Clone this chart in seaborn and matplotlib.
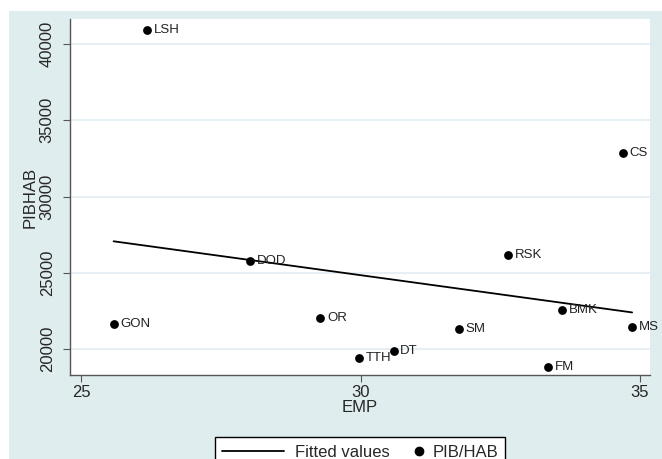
import numpy as np
import pandas as pd
import matplotlib
matplotlib.use("Agg")
import matplotlib.pyplot as plt
from matplotlib.patches import Rectangle
from matplotlib.lines import Line2D
from matplotlib.legend_handler import HandlerLine2D
import seaborn as sns

# data
labels = ["LSH", "CS", "DOD", "GON", "OR", "RSK", "BMK", "MS", "SM", "DT", "TTH", "FM"]
emp = [26.18, 34.69, 28.02, 25.58, 29.28, 32.64, 33.61, 34.86, 31.76, 30.59, 29.98, 33.35]
pibhab = [40920, 32830, 25740, 21620, 22060, 26160, 22550, 21470, 21320, 19870, 19390, 18840]

df = pd.DataFrame({"EMP": emp, "PIBHAB": pibhab, "label": labels})


# marker sits at the right end of the legend key, like Stata does
# (single-point handles are drawn at the middle of xdata, so shrink xdata round the spot)
class RightMarker(HandlerLine2D):
    def get_xdata(self, legend, xdescent, ydescent, width, height, fontsize):
        m = -xdescent + width - 0.15 * fontsize
        return [m - 1, m + 1], [m]


sns.set_style("white")
plt.rcParams["font.family"] = ["Liberation Sans", "DejaVu Sans"]

fig = plt.figure(figsize=(6.62, 4.59), dpi=100)
fig.patch.set_facecolor("white")
# Stata-like light blue graph region
fig.patches.append(Rectangle((9 / 662, 0), 1 - 9 / 662, 1 - 11 / 459,
                             transform=fig.transFigure, facecolor="#e0edee",
                             edgecolor="none", zorder=-5))

ax = fig.add_axes([70 / 662, 1 - 375 / 459, 580 / 662, 356 / 459])
ax.set_facecolor("white")

sns.regplot(data=df, x="EMP", y="PIBHAB", scatter=False, ci=None, truncate=True,
            color="black", line_kws={"linewidth": 1.3}, ax=ax)
sns.scatterplot(data=df, x="EMP", y="PIBHAB", color="black", s=40,
                edgecolor="black", linewidth=0, ax=ax, zorder=3)

for x, y, t in zip(df["EMP"], df["PIBHAB"], df["label"]):
    ax.annotate(t, (x, y), xytext=(4.8, 0), textcoords="offset points",
                va="center", ha="left", fontsize=9.5, color="#222222")

ax.set_xlim(24.8, 35.18)
ax.set_ylim(18290, 41645)
ax.set_xticks([25, 30, 35])
ax.set_yticks([20000, 25000, 30000, 35000, 40000])
ax.yaxis.grid(True, color="#e2eef2", linewidth=1.2)
ax.xaxis.grid(False)
for s in ["top", "right"]:
    ax.spines[s].set_visible(False)
for s in ["left", "bottom"]:
    ax.spines[s].set_color("#555555")
    ax.spines[s].set_linewidth(1.0)
ax.tick_params(axis="both", direction="out", length=5, color="#555555",
               labelsize=12, bottom=True, left=True)
ax.tick_params(axis="x", pad=2)
ax.tick_params(axis="y", pad=6)
plt.setp(ax.get_yticklabels(), rotation=90, va="center")
ax.set_xlabel("EMP", fontsize=12, labelpad=0)
ax.set_ylabel("PIBHAB", fontsize=12, labelpad=1.5)

line_h = Line2D([0], [0], color="black", linewidth=1.3)
dot_h = Line2D([0], [0], marker="o", linestyle="none", color="black", markersize=6)
leg = fig.legend([line_h, dot_h], ["Fitted values", "PIB/HAB"], ncol=2,
                 loc="upper center", bbox_to_anchor=(360 / 662, 1 - 429 / 459),
                 frameon=True, fancybox=False, fontsize=12, handlelength=3.7,
                 handletextpad=0.66, columnspacing=-1.8, borderpad=0.45,
                 framealpha=1, handler_map={dot_h: RightMarker(numpoints=1)})
leg.get_frame().set_edgecolor("black")
leg.get_frame().set_facecolor("white")
leg.get_frame().set_linewidth(1.0)

fig.savefig("out.png", dpi=100)
